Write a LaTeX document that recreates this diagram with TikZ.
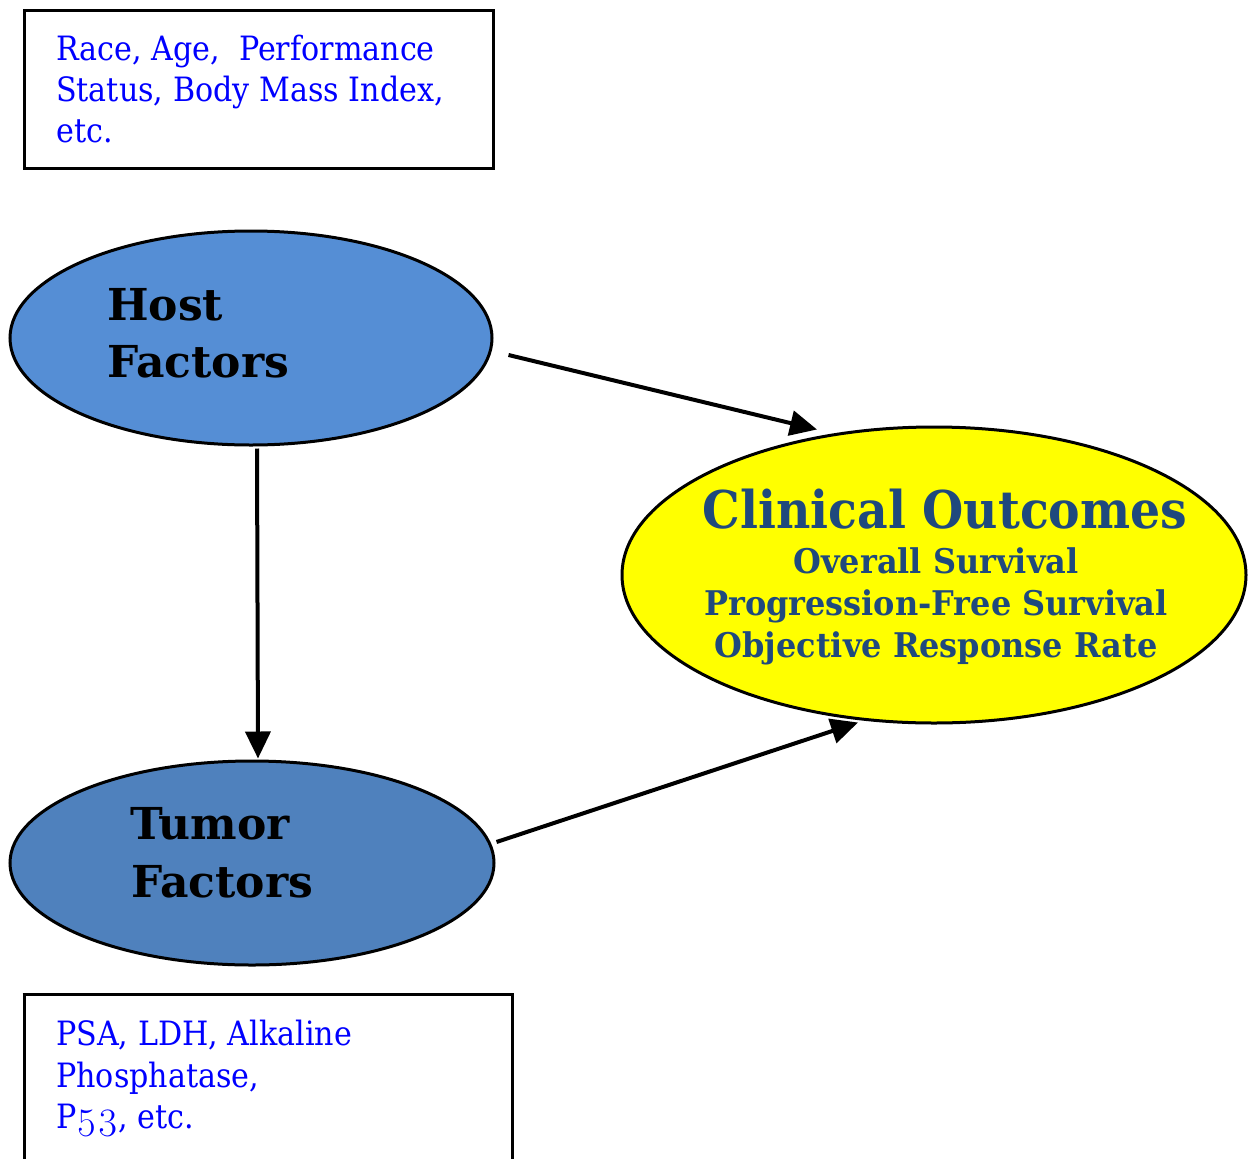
\documentclass[tikz,border=0pt]{standalone}
\usepackage{fontspec}
\setmainfont{DejaVu Serif}
\newfontfamily\notefont{DejaVu Serif}[FakeStretch=0.90]
\newfontfamily\titlefont{DejaVu Serif}[FakeStretch=0.91]
\newfontfamily\itemfont{DejaVu Serif}[FakeStretch=0.94]
\newfontfamily\oldnums{Latin Modern Roman}[Numbers=OldStyle]
\usetikzlibrary{shapes.geometric,arrows.meta,calc}

\definecolor{hostblue}{RGB}{85,142,213}
\definecolor{tumorblue}{RGB}{79,129,189}
\definecolor{outcomeyellow}{RGB}{255,255,0}
\definecolor{outcomeink}{RGB}{31,73,125}
\definecolor{noteblue}{RGB}{0,0,255}

\begin{document}
\begin{tikzpicture}[x=1pt,y=-1pt,
  notebox/.style={draw=black,line width=3pt},
  notetext/.style={anchor=base west,inner sep=0pt,text=noteblue,
    font=\notefont\fontsize{33.5}{40}\selectfont},
  factor/.style={ellipse,draw=black,line width=3pt,inner sep=0pt},
  factortext/.style={anchor=base west,inner sep=0pt,text=black,
    font=\fontsize{44}{50}\selectfont\bfseries},
  outtitle/.style={anchor=base,inner sep=0pt,text=outcomeink,
    font=\titlefont\fontsize{52}{60}\selectfont\bfseries},
  outline/.style={anchor=base,inner sep=0pt,text=outcomeink,
    font=\itemfont\fontsize{34}{40}\selectfont\bfseries},
  link/.style={draw=black,line width=4pt,
    -{Triangle[length=27pt,width=25pt]}}]

\useasboundingbox (0,0) rectangle (1253,1159);

% host characteristics note
\draw[notebox] (24,10) rectangle (493,168);
\node[notetext] (n1) at (56,60) {Race, Age,~ Performance};
\node[notetext] (n2) at (56,101) {Status, Body Mass Index,};
\node[notetext] (n3) at (56,142) {etc.};

% tumor characteristics note (runs off the lower edge)
\draw[notebox] (24,994) -- (24,1180) (512,994) -- (512,1180) (22.5,994) -- (513.5,994);
\node[notetext] (m1) at (56,1045) {PSA, LDH, Alkaline};
\node[notetext] (m2) at (56,1087) {Phosphatase,};
\node[notetext] (m3) at (56,1128) {P{\oldnums\fontsize{40}{40}\selectfont 53}, etc.};

% factor ellipses
\node[factor,fill=hostblue,minimum width=482pt,minimum height=214pt] (host) at (251,338) {};
\node[factortext] (h1) at (107,320) {Host};
\node[factortext] (h2) at (107,377) {Factors};

\node[factor,fill=tumorblue,minimum width=484pt,minimum height=204pt] (tumor) at (252,863) {};
\node[factortext] (t1) at (130,839) {Tumor};
\node[factortext] (t2) at (131,897) {Factors};

% outcomes ellipse
\node[factor,fill=outcomeyellow,minimum width=624pt,minimum height=296pt] (clin) at (934,575) {};
\node[outtitle] (c0) at (945,528) {Clinical Outcomes};
\node[outline] (c1) at (936,573) {Overall Survival};
\node[outline] (c2) at (936,615) {Progression-Free Survival};
\node[outline] (c3) at (936,657) {Objective Response Rate};

% causal links
\draw[link] ($(host.east)+(15,17)$) -- ($(clin.north)+(-117,4)$);
\draw[link] ($(host.south)+(6,2)$) -- ($(tumor.north)+(6,-1)$);
\draw[link] ($(tumor.east)+(1,-21)$) -- ($(clin.south)+(-76,-2)$);
\end{tikzpicture}
\end{document}
